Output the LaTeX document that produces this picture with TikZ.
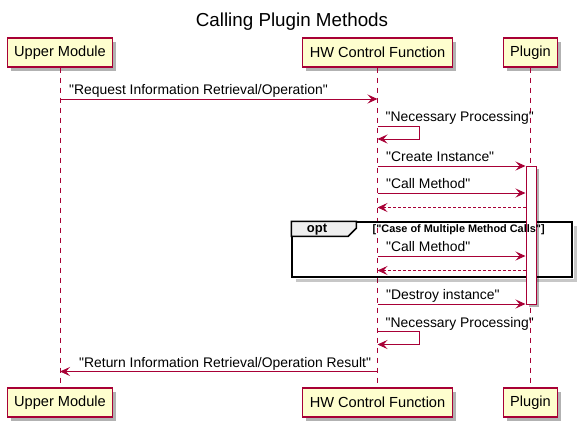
\documentclass[tikz,border=0pt]{standalone}
\usepackage{fontspec}
\setmainfont{Liberation Sans}[Ligatures=TeXOff]
\usetikzlibrary{arrows.meta,shadows}
\definecolor{pu}{HTML}{A80036}
\definecolor{pfill}{HTML}{FEFECE}
\definecolor{tabfill}{HTML}{EEEEEE}
\newcommand{\myq}{\char34\relax}
\begin{document}
\begin{tikzpicture}[x=1pt,y=-1pt,
  titlestyle/.style={font=\fontsize{18.8}{21}\selectfont, inner sep=0},
  part/.style={draw=pu, line width=1.2pt, fill=pfill, font=\fontsize{14.6}{17}\selectfont,
    inner xsep=7pt, inner ysep=0pt, minimum height=29pt,
    drop shadow={shadow xshift=3.5pt, shadow yshift=-3.5pt, opacity=0.3, fill=black}},
  life/.style={draw=pu, line width=0.9pt, dash pattern=on 5pt off 5pt},
  actbox/.style={draw=pu, line width=1pt, fill=white, inner sep=0pt,
    drop shadow={shadow xshift=3pt, shadow yshift=-3pt, opacity=0.3, fill=black}},
  msg/.style={draw=pu, line width=0.9pt, -{Stealth[length=10pt, width=9pt, inset=4pt]}},
  retmsg/.style={msg, dash pattern=on 2.5pt off 2.5pt},
  lbl/.style={font=\fontsize{13.9}{16}\selectfont, inner sep=0pt, anchor=base west},
  optlbl/.style={font=\bfseries\fontsize{13}{15}\selectfont, inner sep=0pt},
  condlbl/.style={font=\bfseries\fontsize{10.9}{12}\selectfont, inner sep=0pt, anchor=west},
  frame/.style={draw=black, line width=1.5pt}
]
\useasboundingbox (0,0) rectangle (584,429);

% row coordinates
\coordinate (r1) at (0,99);
\coordinate (s1a) at (0,126);
\coordinate (s1b) at (0,139);
\coordinate (r3) at (0,166);
\coordinate (r4) at (0,193);
\coordinate (r5) at (0,207.5);
\coordinate (r6) at (0,256);
\coordinate (r7) at (0,270.5);
\coordinate (r8) at (0,304);
\coordinate (s2a) at (0,331.5);
\coordinate (s2b) at (0,344.5);
\coordinate (r9) at (0,371.5);

\node[titlestyle] (title) at (292,22) {Calling Plugin Methods};

% participants
\node[part] (u1) at (60,52.5) {Upper Module};
\node[part] (hw1) at (377.5,52.5) {HW Control Function};
\node[part] (pl1) at (530.5,52.5) {Plugin};
\node[part] (u2) at (60,402.5) {Upper Module};
\node[part] (hw2) at (377.5,402.5) {HW Control Function};
\node[part] (pl2) at (530.5,402.5) {Plugin};

% lifelines
\draw[life] (u1.south) -- (u2.north);
\draw[life] (hw1.south) -- (hw2.north);
\draw[life] (pl1.south) -- (pl2.north);

% opt frame
\draw[black, opacity=0.22, line width=3pt] (575,226) -- (575,280) -- (296,280);
\node[frame, minimum width=280pt, minimum height=55pt, inner sep=0pt] (opt) at (432,249.5) {};
\draw[frame, fill=tabfill] (opt.north west) -- ++(65,0) -- ++(0,7) -- ++(-8,8) -- ++(-57,0) -- cycle;
\node[optlbl] (optt) at (317,229.5) {opt};

% activation
\node[actbox, minimum width=10pt, minimum height=138pt] (act) at (531,235) {};

\node[condlbl] (cond) at (372.5,230) {[\myq Case of Multiple Method Calls\myq]};

% messages
\draw[msg] (u1 |- r1) -- (hw1 |- r1);
\node[lbl] (t1) at (69,94.5) {\myq Request Information Retrieval/Operation\myq};

\draw[msg] (hw1 |- s1a) -- ++(42,0) -- ++(0,13) -- (hw1 |- s1b);
\node[lbl] (t2) at (385.5,121.5) {\myq Necessary Processing\myq};

\draw[msg] (hw1 |- r3) -- (act.west |- r3);
\node[lbl] (t3) at (386,161.5) {\myq Create Instance\myq};

\draw[msg] (hw1 |- r4) -- (act.west |- r4);
\node[lbl] (t4) at (386,188.5) {\myq Call Method\myq};

\draw[retmsg] (act.west |- r5) -- (hw1 |- r5);

\draw[msg] (hw1 |- r6) -- (act.west |- r6);
\node[lbl] (t5) at (386,251.5) {\myq Call Method\myq};

\draw[retmsg] (act.west |- r7) -- (hw1 |- r7);

\draw[msg] (hw1 |- r8) -- (act.west |- r8);
\node[lbl] (t6) at (386,299.5) {\myq Destroy instance\myq};

\draw[msg] (hw1 |- s2a) -- ++(42,0) -- ++(0,13) -- (hw1 |- s2b);
\node[lbl] (t7) at (385.5,327) {\myq Necessary Processing\myq};

\draw[msg] (hw1 |- r9) -- (u1 |- r9);
\node[lbl] (t8) at (79,367) {\myq Return Information Retrieval/Operation Result\myq};

\end{tikzpicture}
\end{document}
